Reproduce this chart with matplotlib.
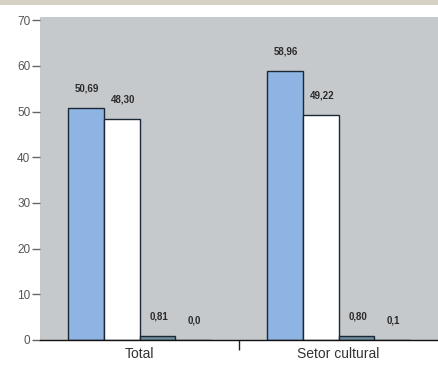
import matplotlib.pyplot as plt
import numpy as np

# percentages per group, four series
groups = ['Total', 'Setor cultural']
serie_a = [50.69, 58.96]
serie_b = [48.30, 49.22]
serie_c = [0.81, 0.80]
serie_d = [0.0, 0.1]
labels_a = ['50,69', '58,96']
labels_b = ['48,30', '49,22']
labels_c = ['0,81', '0,80']
labels_d = ['0,0', '0,1']

plt.rcParams['font.family'] = ['Liberation Sans', 'DejaVu Sans']

fig = plt.figure(figsize=(4.38, 3.65), dpi=100)
fig.patch.set_facecolor('white')
# beige strip across the top
fig.patches.append(plt.Rectangle((0, 1 - 5 / 365), 1, 5 / 365, transform=fig.transFigure,
                                 facecolor='#d4d1c3', edgecolor='none'))

ax = fig.add_axes([40 / 438, 25 / 365, 1 - 40 / 438, (340 - 17) / 365])
ax.set_facecolor('#c6c9cb')

x = np.array([0.5, 1.5])
w = 0.18
series = [
    (serie_a, labels_a, '#8db4e2'),
    (serie_b, labels_b, '#ffffff'),
    (serie_c, labels_c, '#6f8f9c'),
    (serie_d, labels_d, '#6f8f9c'),
]
for i, (vals, labs, col) in enumerate(series):
    pos = x + (i - 1.5) * w
    bars = ax.bar(pos, vals, width=w, color=col, edgecolor='#1c2838', linewidth=1.0)
    for b, lab in zip(bars, labs):
        ax.annotate(lab, (b.get_x() + b.get_width() / 2, b.get_height()),
                    xytext=(1, 14), textcoords='offset points', ha='center', va='center',
                    fontsize=7, fontweight='bold', color='#2a2a2a')

ax.set_xlim(0, 2)
ax.set_ylim(0, 70.7)
ax.set_yticks(range(0, 71, 10))
ax.tick_params(axis='y', length=6, width=1, color='#666666', labelcolor='#555555',
               labelsize=8.5, pad=1)

ax.set_xticks(x)
ax.set_xticklabels(groups, fontsize=10, color='#333333')
ax.tick_params(axis='x', length=0, pad=5)
ax.set_xticks([1.0], minor=True)
ax.tick_params(axis='x', which='minor', length=7, width=1, color='#222222')

for s in ['top', 'right', 'left']:
    ax.spines[s].set_visible(False)
ax.spines['bottom'].set_color('#111111')
ax.spines['bottom'].set_linewidth(1.0)

fig.savefig('out.png', dpi=100)
